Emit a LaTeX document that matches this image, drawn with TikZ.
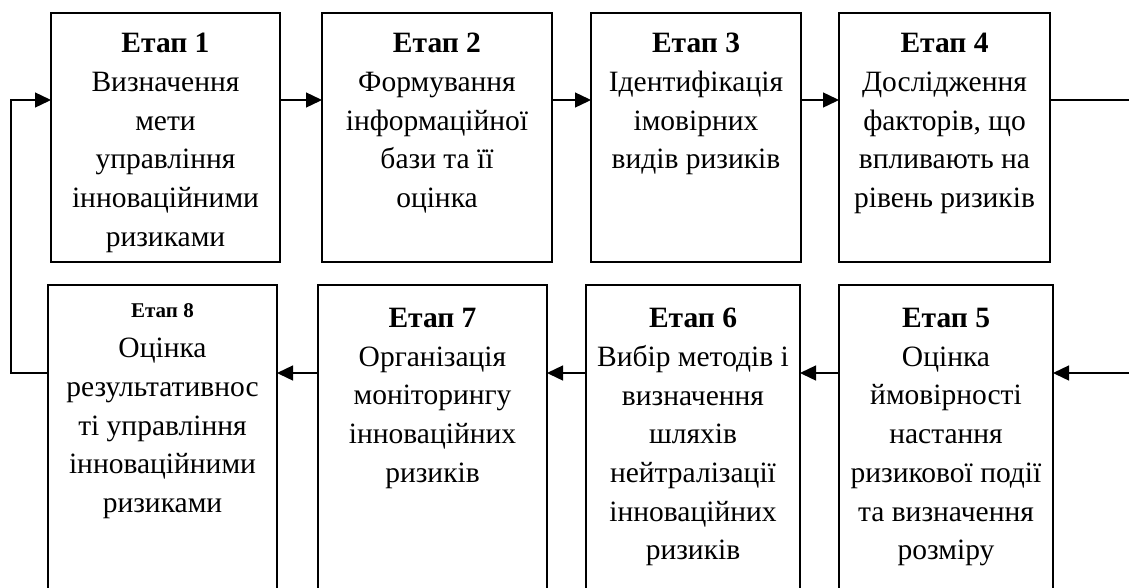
\documentclass[tikz,border=0pt]{standalone}
\usepackage{fontspec}
\setmainfont{Liberation Serif}
\usetikzlibrary{arrows.meta}
\begin{document}
\begin{tikzpicture}[x=1pt,y=-1pt,
  stagebox/.style={draw, line width=1.4pt, inner sep=0pt, outer sep=0pt},
  topbox/.style={stagebox, minimum height=249pt},
  botbox/.style={stagebox, minimum height=355pt},
  stagetext/.style={align=center, inner sep=0pt, font=\fontsize{29.5}{38.7}\selectfont, anchor=north},
  flow/.style={line width=1.4pt, -{Triangle[length=16pt,width=15pt]}},
  plainline/.style={line width=1.4pt}]
\useasboundingbox (0,0) rectangle (1129,587);
\clip (0,0) rectangle (1129,587);
\fill[white] (0,0) rectangle (1129,587);
% rows
\coordinate (rowA) at (0,100);
\coordinate (rowB) at (0,373);
\coordinate (inL) at (11,100);
\coordinate (loopB) at (11,373);
\coordinate (outR) at (1129,100);
\coordinate (inR) at (1129,373);
% top boxes
\node[topbox, minimum width=229pt] (b1) at (165.5,137.5) {};
\node[topbox, minimum width=230pt] (b2) at (437,137.5) {};
\node[topbox, minimum width=210pt] (b3) at (696,137.5) {};
\node[topbox, minimum width=211pt] (b4) at (944.5,137.5) {};
% bottom boxes
\node[botbox, minimum width=229pt] (b8) at (162.5,462.5) {};
\node[botbox, minimum width=229pt] (b7) at (432.5,462.5) {};
\node[botbox, minimum width=214pt] (b6) at (693,462.5) {};
\node[botbox, minimum width=214pt] (b5) at (946,462.5) {};
% texts
\node[stagetext] (t1) at ([yshift=-20pt]b1.north) {\textbf{Етап 1}\\Визначення\\мети\\управління\\інноваційними\\ризиками};
\node[stagetext] (t2) at ([yshift=-20pt]b2.north) {\textbf{Етап 2}\\Формування\\інформаційної\\бази та її\\оцінка};
\node[stagetext] (t3) at ([yshift=-20pt]b3.north) {\textbf{Етап 3}\\Ідентифікація\\імовірних\\видів ризиків};
\node[stagetext] (t4) at ([yshift=-20pt]b4.north) {\textbf{Етап 4}\\Дослідження\\факторів, що\\впливають на\\рівень ризиків};
\node[stagetext] (t5) at ([yshift=-23pt]b5.north) {\textbf{Етап 5}\\Оцінка\\ймовірності\\настання\\ризикової події\\та визначення\\розміру};
\node[stagetext] (t6) at ([yshift=-23pt]b6.north) {\textbf{Етап 6}\\Вибір методів і\\визначення\\шляхів\\нейтралізації\\інноваційних\\ризиків};
\node[stagetext] (t7) at ([yshift=-23pt]b7.north) {\textbf{Етап 7}\\Організація\\моніторингу\\інноваційних\\ризиків};
\node[stagetext] (t8) at ([yshift=-18pt]b8.north) {{\fontsize{21}{25}\selectfont\textbf{Етап 8}}\\[2pt]Оцінка\\результативнос\\ті управління\\інноваційними\\ризиками};
% connectors
\draw[flow] (b1.east |- rowA) -- (b2.west |- rowA);
\draw[flow] (b2.east |- rowA) -- (b3.west |- rowA);
\draw[flow] (b3.east |- rowA) -- (b4.west |- rowA);
\draw[plainline] (b4.east |- rowA) -- (outR);
\draw[flow] (inR) -- (b5.east |- rowB);
\draw[flow] (b5.west |- rowB) -- (b6.east |- rowB);
\draw[flow] (b6.west |- rowB) -- (b7.east |- rowB);
\draw[flow] (b7.west |- rowB) -- (b8.east |- rowB);
\draw[flow] (b8.west |- rowB) -- (loopB) -- (inL) -- (b1.west |- rowA);
\end{tikzpicture}
\end{document}
